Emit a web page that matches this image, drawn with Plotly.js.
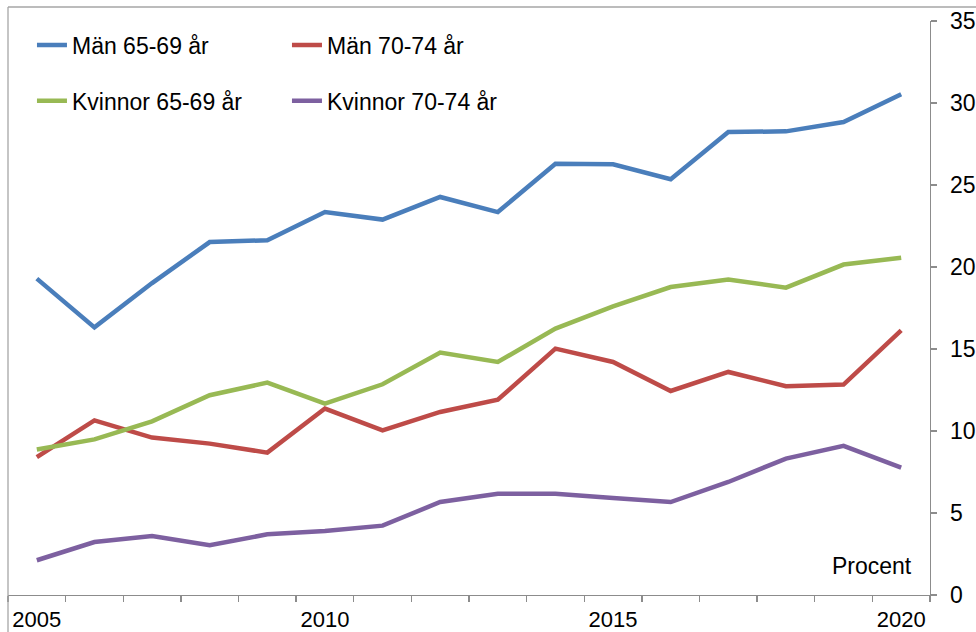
<!DOCTYPE html>
<html>
<head>
<meta charset="utf-8">
<script src="https://cdn.plot.ly/plotly-3.0.1.min.js"></script>
<style>html,body{margin:0;padding:0;background:#fff;}#chart{width:976px;height:632px;}</style>
</head>
<body>
<div id="chart"></div>
<script>
const years = [2005,2006,2007,2008,2009,2010,2011,2012,2013,2014,2015,2016,2017,2018,2019,2020];
const manYoung = [19.29,16.32,19.02,21.52,21.63,23.35,22.89,24.27,23.35,26.30,26.26,25.35,28.23,28.27,28.84,30.53];
const manOld = [8.41,10.65,9.60,9.23,8.68,11.37,10.04,11.16,11.91,15.02,14.21,12.44,13.60,12.73,12.83,16.14];
const womenYoung = [8.87,9.49,10.59,12.18,12.95,11.67,12.85,14.78,14.21,16.24,17.60,18.78,19.23,18.74,20.15,20.57];
const womenOld = [2.12,3.23,3.60,3.03,3.70,3.90,4.23,5.67,6.18,6.18,5.91,5.67,6.89,8.32,9.09,7.77];
const seriesNames = ["Män 65-69 år","Män 70-74 år","Kvinnor 65-69 år","Kvinnor 70-74 år"];
const xTickVals = [2005,2010,2015,2020];
const yTickVals = [0,5,10,15,20,25,30,35];

const font = "'Liberation Sans', Arial, sans-serif";
const colors = ["#4A7EBB","#BE4B48","#98B954","#7D60A0"];
const data = [manYoung, manOld, womenYoung, womenOld].map((v,i)=>({
  type:'scatter', mode:'lines', x:years, y:v, name:seriesNames[i],
  line:{color:colors[i], width:4.5},
  legend: i<2 ? 'legend' : 'legend2',
  hoverinfo:'skip'
}));

const legendCommon = {orientation:'h', entrywidth:210, entrywidthmode:'pixels',
  font:{family:font, size:23, color:'#000'}, bgcolor:'rgba(0,0,0,0)', xanchor:'left', yanchor:'middle',
  itemclick:false, tracegroupgap:0};

const layout = {
  width:976, height:632,
  margin:{l:8, r:46, t:21, b:37, pad:0},
  paper_bgcolor:'#fff', plot_bgcolor:'#fff',
  showlegend:true,
  legend:Object.assign({x:0.026, y:0.958}, legendCommon),
  legend2:Object.assign({x:0.026, y:0.861}, legendCommon),
  xaxis:{range:[2004.5,2020.5], tickvals:xTickVals, ticktext:xTickVals.map(String),
    ticks:'outside', ticklen:4, tickcolor:'rgba(0,0,0,0)',
    showgrid:false, zeroline:false, showline:true, linecolor:'#8c8c8c', linewidth:1.3,
    tickfont:{family:font, size:22, color:'#000'}, ticklabelstandoff:0,
    minor:{tick0:2004.5, dtick:1, ticks:'outside', ticklen:6, tickcolor:'#8c8c8c', tickwidth:1.3, showgrid:false},
    fixedrange:true},
  yaxis:{range:[0,35], side:'right', tickvals:yTickVals, ticks:'outside', ticklen:6,
    tickcolor:'#8c8c8c', tickwidth:1.3,
    showgrid:false, zeroline:false, showline:true, linecolor:'#8c8c8c', linewidth:1.3,
    tickfont:{family:font, size:23, color:'#000'}, ticklabelstandoff:8, fixedrange:true},
  shapes:[
    {type:'line', xref:'paper', yref:'paper', x0:0, x1:1.1, y0:1.0244, y1:1.0244, line:{color:'#a6a6a6', width:1.3}},
    {type:'line', xref:'paper', yref:'paper', x0:0, x1:0, y0:-0.1, y1:1.0244, line:{color:'#a6a6a6', width:1.3}}
  ],
  annotations:[
    {text:'Procent', xref:'paper', yref:'paper', x:0.9826, y:0.05, xanchor:'right', yanchor:'middle',
     showarrow:false, font:{family:font, size:23, color:'#000'}}
  ]
};
Plotly.newPlot('chart', data, layout, {displayModeBar:false, staticPlot:true});
</script>
</body>
</html>
